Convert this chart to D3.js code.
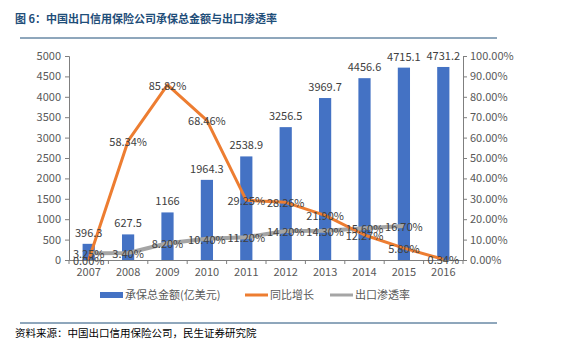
<!DOCTYPE html>
<html>
<head>
<meta charset="utf-8">
<script src="https://cdn.jsdelivr.net/npm/d3@7"></script>
<style>
  body { margin: 0; background: #fff; }
  text { font-family: "Noto Sans CJK SC", "DejaVu Sans", sans-serif; }
</style>
</head>
<body>
<div id="canvas"></div>
<script>
// data
const years = ["2007", "2008", "2009", "2010", "2011", "2012", "2013", "2014", "2015", "2016"];
const amount = [396.3, 627.5, 1166, 1964.3, 2538.9, 3256.5, 3969.7, 4456.6, 4715.1, 4731.2];
const growth = [0.00, 58.34, 85.82, 68.46, 29.25, 28.26, 21.90, 12.27, 5.80, 0.34];
const penetration = [3.25, 3.40, 8.20, 10.40, 11.20, 14.20, 14.30, 15.60, 16.70, null];
const leftTicks = [0, 500, 1000, 1500, 2000, 2500, 3000, 3500, 4000, 4500, 5000];
const rightTicks = [0, 10, 20, 30, 40, 50, 60, 70, 80, 90, 100];
const seriesNames = ["承保总金额(亿美元)", "同比增长", "出口渗透率"];

const width = 565, height = 354;
const margin = { top: 56, left: 69, bottom: 94, right: 102 };
const iwidth = width - margin.left - margin.right;
const iheight = height - margin.top - margin.bottom;

const blue = "#4472c4", orange = "#ed7d31", grey = "#a5a5a5";
const axisColor = "#7f7f7f", labelColor = "#404040";

const svg = d3.select("#canvas").append("svg")
  .attr("width", width)
  .attr("height", height);

// title and rules
svg.append("text")
  .attr("x", 15).attr("y", 23)
  .style("font-size", "11px").style("font-weight", "bold")
  .attr("fill", "#1f4e79")
  .text("图 6：中国出口信用保险公司承保总金额与出口渗透率");

svg.append("line")
  .attr("x1", 20).attr("x2", 497).attr("y1", 38).attr("y2", 38)
  .attr("stroke", "#1f4e79").attr("stroke-width", 1);

svg.append("line")
  .attr("x1", 20).attr("x2", 497).attr("y1", 323).attr("y2", 323)
  .attr("stroke", "#1f4e79").attr("stroke-width", 1);

svg.append("text")
  .attr("x", 15).attr("y", 337)
  .style("font-size", "10.5px")
  .attr("fill", "#000")
  .text("资料来源：中国出口信用保险公司，民生证券研究院");

const g = svg.append("g").attr("transform", `translate(${margin.left},${margin.top})`);

const x = d3.scaleBand()
  .domain(years)
  .range([0, iwidth])
  .paddingInner(0.69)
  .paddingOuter(0.345);

const y = d3.scaleLinear().domain([0, 5000]).range([iheight, 0]);
const y2 = d3.scaleLinear().domain([0, 100]).range([iheight, 0]);

// bars
g.selectAll("rect.bar").data(amount).enter().append("rect")
  .attr("class", "bar")
  .attr("x", (d, i) => x(years[i]))
  .attr("y", d => y(d))
  .attr("width", x.bandwidth())
  .attr("height", d => iheight - y(d))
  .attr("fill", blue);

// axes
const leftAxis = g.append("g")
  .call(d3.axisLeft(y).tickValues(leftTicks).tickSize(4).tickPadding(4).tickFormat(d => d));
const rightAxis = g.append("g")
  .attr("transform", `translate(${iwidth},0)`)
  .call(d3.axisRight(y2).tickValues(rightTicks).tickSize(4).tickPadding(3)
    .tickFormat(d => d.toFixed(2) + "%"));

const step = x.step();
const bottomAxis = g.append("g")
  .attr("transform", `translate(0,${iheight})`)
  .call(d3.axisBottom(x).tickSize(0).tickPadding(8));

bottomAxis.selectAll(".bnd").data(d3.range(years.length + 1)).enter().append("line")
  .attr("x1", i => i * step).attr("x2", i => i * step)
  .attr("y1", 0).attr("y2", 4)
  .attr("stroke", axisColor);

[leftAxis, rightAxis, bottomAxis].forEach(a => {
  a.selectAll("path.domain").attr("stroke", axisColor);
  a.selectAll(".tick line").attr("stroke", axisColor);
  a.selectAll(".tick text").attr("fill", "#595959").style("font-size", "11px")
    .style("font-family", "\"Noto Sans CJK SC\", sans-serif");
});
bottomAxis.selectAll("path.domain").attr("d", `M0,0.5H${iwidth}`);

const cx = i => x(years[i]) + x.bandwidth() / 2;

// lines
const growthLine = d3.line().x((d, i) => cx(i)).y(d => y2(d));
const penLine = d3.line().defined(d => d != null).x((d, i) => cx(i)).y(d => y2(d));

g.append("path").datum(penetration)
  .attr("d", penLine).attr("fill", "none")
  .attr("stroke", grey).attr("stroke-width", 4).attr("stroke-linejoin", "round");

g.append("path").datum(growth)
  .attr("d", growthLine).attr("fill", "none")
  .attr("stroke", orange).attr("stroke-width", 3).attr("stroke-linejoin", "round");

// labels
const lblSize = "11px";
g.selectAll("text.barlbl").data(amount).enter().append("text")
  .attr("x", (d, i) => cx(i))
  .attr("y", d => y(d) - 7)
  .attr("text-anchor", "middle")
  .style("font-size", lblSize).attr("fill", labelColor)
  .text(d => d.toString());

g.selectAll("text.penlbl").data(penetration.filter(d => d != null)).enter().append("text")
  .attr("x", (d, i) => cx(i))
  .attr("y", d => y2(d) + 1)
  .attr("dy", "0.35em")
  .attr("text-anchor", "middle")
  .style("font-size", lblSize).attr("fill", labelColor)
  .text(d => d.toFixed(2) + "%");

g.selectAll("text.grlbl").data(growth).enter().append("text")
  .attr("x", (d, i) => cx(i))
  .attr("y", d => y2(d) + 1)
  .attr("dy", "0.35em")
  .attr("text-anchor", "middle")
  .style("font-size", lblSize).attr("fill", labelColor)
  .text(d => d.toFixed(2) + "%");

// legend
const legend = svg.append("g").attr("transform", "translate(0,295)");
const legendX = [100, 245, 330];
const legendColors = [blue, orange, grey];
seriesNames.forEach((name, i) => {
  const lg = legend.append("g").attr("transform", `translate(${legendX[i]},0)`);
  if (i === 0) {
    lg.append("rect").attr("x", 0).attr("y", -3).attr("width", 23).attr("height", 6).attr("fill", blue);
  } else {
    lg.append("line").attr("x1", 0).attr("x2", 23).attr("y1", 0).attr("y2", 0)
      .attr("stroke", legendColors[i]).attr("stroke-width", 3);
  }
  lg.append("text").attr("x", 25).attr("dy", "0.35em")
    .style("font-size", "11px").attr("fill", "#595959")
    .text(name);
});
</script>
</body>
</html>
